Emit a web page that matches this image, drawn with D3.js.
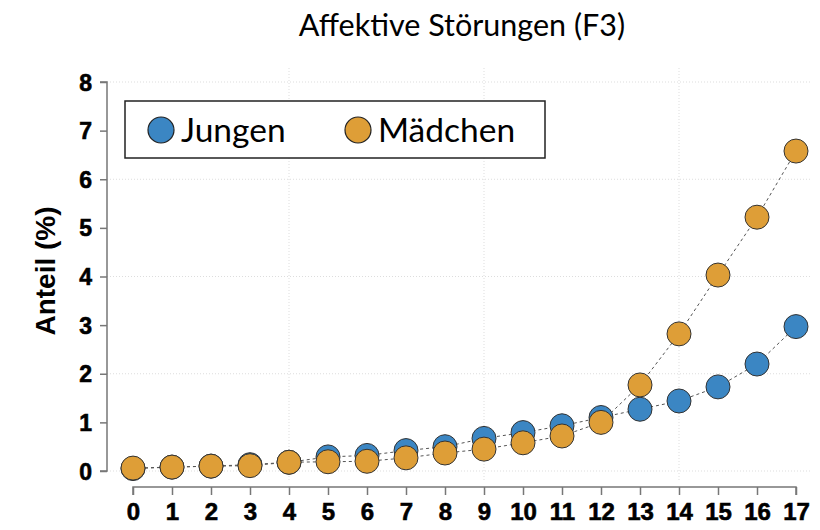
<!DOCTYPE html>
<html>
<head>
<meta charset="utf-8">
<script src="https://cdn.jsdelivr.net/npm/d3@7"></script>
<style>
  body { margin: 0; background: #fff; }
  .tick text { font-family: "Liberation Sans", Arial, sans-serif; font-weight: bold; font-size: 23px; fill: #000; stroke: #000; stroke-width: 0.6px; }
</style>
</head>
<body>
<svg id="chart" width="820" height="530"></svg>
<script>
// Alter in Jahren
let ages = d3.range(0, 18);
let jungen = [0.05, 0.08, 0.1, 0.13, 0.18, 0.29, 0.32, 0.42, 0.5, 0.67, 0.79, 0.93, 1.1, 1.27, 1.44, 1.73, 2.2, 2.97];
let maedchen = [0.06, 0.08, 0.1, 0.11, 0.18, 0.19, 0.2, 0.27, 0.37, 0.45, 0.58, 0.72, 1.0, 1.77, 2.82, 4.03, 5.22, 6.58];
let yTicks = [0, 1, 2, 3, 4, 5, 6, 7, 8];
let gridY = [0, 2, 4, 6, 8];
let gridX = [4, 9, 14];
let seriesNames = ["Jungen", "Mädchen"];
let colors = ["#3b86c3", "#de9e37"];

let svg = d3.select("#chart");

let xScale = d3.scaleLinear().domain([0, 17]).range([133, 796]);
let yScale = d3.scaleLinear().domain([0, 8]).range([471, 82]);

// grid
svg.append("g").selectAll("line").data(gridY).enter().append("line")
    .attr("x1", 107).attr("x2", 810)
    .attr("y1", d => yScale(d)).attr("y2", d => yScale(d))
    .attr("stroke", "#ddd").attr("stroke-dasharray", "1,2");
svg.append("g").selectAll("line").data(gridX).enter().append("line")
    .attr("x1", d => xScale(d)).attr("x2", d => xScale(d))
    .attr("y1", 68).attr("y2", 480)
    .attr("stroke", "#ddd").attr("stroke-dasharray", "1,2");

// axes
let yAxis = svg.append("g")
    .attr("transform", "translate(107,0)")
    .call(d3.axisLeft(yScale).tickValues(yTicks).tickSize(7).tickPadding(8));
let xAxis = svg.append("g")
    .attr("transform", "translate(0,487)")
    .call(d3.axisBottom(xScale).tickValues(ages).tickSize(8).tickPadding(8));
svg.selectAll(".domain, .tick line").attr("stroke", "#777").attr("stroke-width", 1.5);
xAxis.selectAll(".domain").attr("d", "M" + xScale(0) + ",8V0H" + xScale(17) + "V8");
yAxis.selectAll(".domain").attr("d", "M-7," + yScale(8) + "H0V" + yScale(0) + "H-7");
yAxis.selectAll(".tick text").attr("dy", "0.35em");
xAxis.selectAll(".tick text").style("font-size", "24px");

// title & y label
svg.append("text")
    .attr("x", 462).attr("y", 36)
    .attr("text-anchor", "middle")
    .style("font-family", "Lato, 'Open Sans', sans-serif")
    .style("font-size", "30.5px")
    .text("Affektive Störungen (F3)");

svg.append("text")
    .attr("transform", "translate(55,271) rotate(-90)")
    .attr("text-anchor", "middle")
    .style("font-family", "'Liberation Sans', Arial, sans-serif")
    .style("font-weight", "bold")
    .style("font-size", "28px")
    .text("Anteil (%)");

// lines and points
let line = d3.line()
    .x((d, i) => xScale(ages[i]))
    .y(d => yScale(d));

[jungen, maedchen].forEach(function(data, k) {
  svg.append("path")
      .datum(data)
      .attr("d", line)
      .attr("fill", "none")
      .attr("stroke", "#555")
      .attr("stroke-width", 1)
      .attr("stroke-dasharray", "3,3");
});

[jungen, maedchen].forEach(function(data, k) {
  svg.append("g").selectAll("circle")
      .data(data).enter().append("circle")
      .attr("cx", (d, i) => xScale(ages[i]))
      .attr("cy", d => yScale(d))
      .attr("r", 12)
      .attr("fill", colors[k])
      .attr("stroke", "#333")
      .attr("stroke-width", 1);
});

// legend
let legend = svg.append("g");
legend.append("rect")
    .attr("x", 125).attr("y", 101).attr("width", 420).attr("height", 57)
    .attr("fill", "#fff").attr("stroke", "#222").attr("stroke-width", 1.5);
let legendX = [161, 358];
seriesNames.forEach(function(name, k) {
  legend.append("circle")
      .attr("cx", legendX[k]).attr("cy", 130).attr("r", 13)
      .attr("fill", colors[k]).attr("stroke", "#222").attr("stroke-width", 1.2);
  legend.append("text")
      .attr("x", legendX[k] + 20).attr("y", 142)
      .style("font-family", "Lato, 'Open Sans', sans-serif")
      .style("font-size", "33.5px")
      .text(name);
});
</script>
</body>
</html>
